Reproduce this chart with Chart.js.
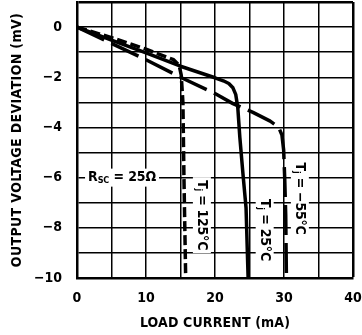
<!DOCTYPE html>
<html>
<head>
<meta charset="utf-8">
<script src="https://cdn.jsdelivr.net/npm/chart.js@4.4.1/dist/chart.umd.min.js"></script>
<style>
  html, body { margin: 0; padding: 0; background: #fff; }
  canvas { display: block; }
</style>
</head>
<body>
<canvas id="grafico" width="362" height="335"></canvas>
<script>
// curvas (mA, mV)
const corriente125 = [0, 5, 10, 14, 14.8, 15.1, 15.35, 15.5, 15.75];
const desv125 = [0, -0.42, -0.88, -1.3, -1.52, -1.9, -3, -6, -10];

const corriente25 = [0, 5, 10, 15, 20, 21.2, 22.0, 22.6, 23.0, 23.3, 23.6, 24.1, 24.5, 24.8];
const desv25 = [0, -0.52, -1.03, -1.56, -2.02, -2.14, -2.25, -2.42, -2.68, -3.2, -4.4, -6, -7.2, -10];

const corriente55 = [0, 10, 15, 20, 22.6, 25.5, 28, 29.2, 29.7, 29.95, 30.1, 30.25, 30.35];
const desv55 = [0, -1.3, -2.0, -2.65, -3.05, -3.4, -3.75, -3.98, -4.3, -4.9, -6, -7.5, -10];

const xTickValues = [0, 10, 20, 30, 40];
const xTickLabels = ['0', '10', '20', '30', '40'];
const yTickValues = [0, -2, -4, -6, -8, -10];
const yTickLabels = ['0', '\u22122', '\u22124', '\u22126', '\u22128', '\u221210'];

const fuente = '"Liberation Sans Narrow", "DejaVu Sans Condensed", "Arial Narrow", sans-serif';

function pares(xs, ys) {
  return xs.map((x, i) => ({ x: x, y: ys[i] }));
}

// texto con subindice, opcionalmente girado, con fondo blanco; se ajusta al largo pedido
function etiqueta(ctx, partes, x, y, giro, largo) {
  ctx.save();
  ctx.translate(x, y);
  ctx.rotate(giro);
  ctx.textBaseline = 'middle';
  ctx.textAlign = 'left';
  let ancho = 0, n = 0;
  partes.forEach(p => {
    ctx.font = 'bold ' + p[1] + 'px ' + fuente;
    ancho += ctx.measureText(p[0]).width;
    n += p[0].length;
  });
  ctx.letterSpacing = ((largo - ancho) / n) + 'px';
  ctx.fillStyle = '#fff';
  ctx.fillRect(-3, -9, largo + 6, 18);
  ctx.fillStyle = '#000';
  let pos = 0;
  partes.forEach(p => {
    ctx.font = 'bold ' + p[1] + 'px ' + fuente;
    ctx.fillText(p[0], pos, p[2]);
    pos += ctx.measureText(p[0]).width;
  });
  ctx.restore();
}

function titulo(ctx, texto, x, y, largo, giro) {
  ctx.save();
  ctx.translate(x, y);
  ctx.rotate(giro);
  ctx.font = 'bold 14px ' + fuente;
  ctx.textBaseline = 'middle';
  ctx.textAlign = 'center';
  const w = ctx.measureText(texto).width;
  ctx.letterSpacing = ((largo - w) / (texto.length - 1)) + 'px';
  ctx.fillStyle = '#000';
  ctx.fillText(texto, 0, 0);
  ctx.restore();
}

const textos = {
  id: 'textos',
  afterDatasetsDraw(chart) {
    const ctx = chart.ctx;
    const sx = chart.scales.x, sy = chart.scales.y;
    etiqueta(ctx, [['R', 14, 0], ['SC', 9, 3], [' = 25\u03A9', 14, 0]], sx.getPixelForValue(1.6), sy.getPixelForValue(-6), 0, 68);
    etiqueta(ctx, [['T', 14, 0], ['j', 9, 4], [' = 125\u00B0C', 14, 0]], sx.getPixelForValue(18.1), sy.getPixelForValue(-6.1), Math.PI / 2, 70);
    etiqueta(ctx, [['T', 14, 0], ['j', 9, 4], [' = 25\u00B0C', 14, 0]], sx.getPixelForValue(27.2), sy.getPixelForValue(-6.85), Math.PI / 2, 62);
    etiqueta(ctx, [['T', 14, 0], ['j', 9, 4], [' = \u221255\u00B0C', 14, 0]], sx.getPixelForValue(32.3), sy.getPixelForValue(-5.4), Math.PI / 2, 72);
  },
  afterDraw(chart) {
    const ctx = chart.ctx;
    const a = chart.chartArea;
    titulo(ctx, 'LOAD CURRENT (mA)', (a.left + a.right) / 2, 323, 150, 0);
    titulo(ctx, 'OUTPUT VOLTAGE DEVIATION (mV)', 17, (a.top + a.bottom) / 2, 254, -Math.PI / 2);
  }
};

const ctx = document.getElementById('grafico').getContext('2d');
const grafico = new Chart(ctx, {
  type: 'line',
  data: {
    datasets: [
      { label: 'Tj = 125°C', data: pares(corriente125, desv125), borderColor: '#000', borderWidth: 3.5, borderDash: [10, 4] },
      { label: 'Tj = 25°C', data: pares(corriente25, desv25), borderColor: '#000', borderWidth: 3.5 },
      { label: 'Tj = -55°C', data: pares(corriente55, desv55), borderColor: '#000', borderWidth: 3.5, borderDash: [30, 8] }
    ]
  },
  options: {
    responsive: false,
    animation: false,
    events: [],
    elements: {
      point: { radius: 0 },
      line: { tension: 0, fill: false, borderJoinStyle: 'round' }
    },
    layout: { padding: { top: 2, right: 9, left: 0, bottom: 0 } },
    plugins: { legend: { display: false }, tooltip: { enabled: false } },
    scales: {
      x: {
        type: 'linear', min: 0, max: 40,
        ticks: {
          stepSize: 5, autoSkip: false, maxRotation: 0, padding: 12, color: '#000',
          font: { family: fuente, size: 14, weight: 'bold' },
          callback: v => { const i = xTickValues.indexOf(v); return i >= 0 ? xTickLabels[i] : ''; }
        },
        grid: { color: '#000', lineWidth: c => (c.tick && c.tick.value === 40 ? 2.5 : 1.5), drawTicks: false },
        border: { color: '#000', width: 2.5 },
        afterFit: s => { s.height = 57; s.paddingLeft = 0; s.paddingRight = 0; }
      },
      y: {
        type: 'linear', min: -10, max: 1,
        ticks: {
          stepSize: 1, autoSkip: false, padding: 15, color: '#000',
          font: { family: fuente, size: 14, weight: 'bold' },
          callback: v => { const i = yTickValues.indexOf(v); return i >= 0 ? yTickLabels[i] : ''; }
        },
        grid: { color: '#000', lineWidth: c => (c.tick && c.tick.value === 1 ? 2.5 : 1.5), drawTicks: false },
        border: { color: '#000', width: 2.5 },
        afterFit: s => { s.width = 77; s.paddingTop = 0; s.paddingBottom = 0; }
      }
    }
  },
  plugins: [textos]
});
</script>
</body>
</html>
